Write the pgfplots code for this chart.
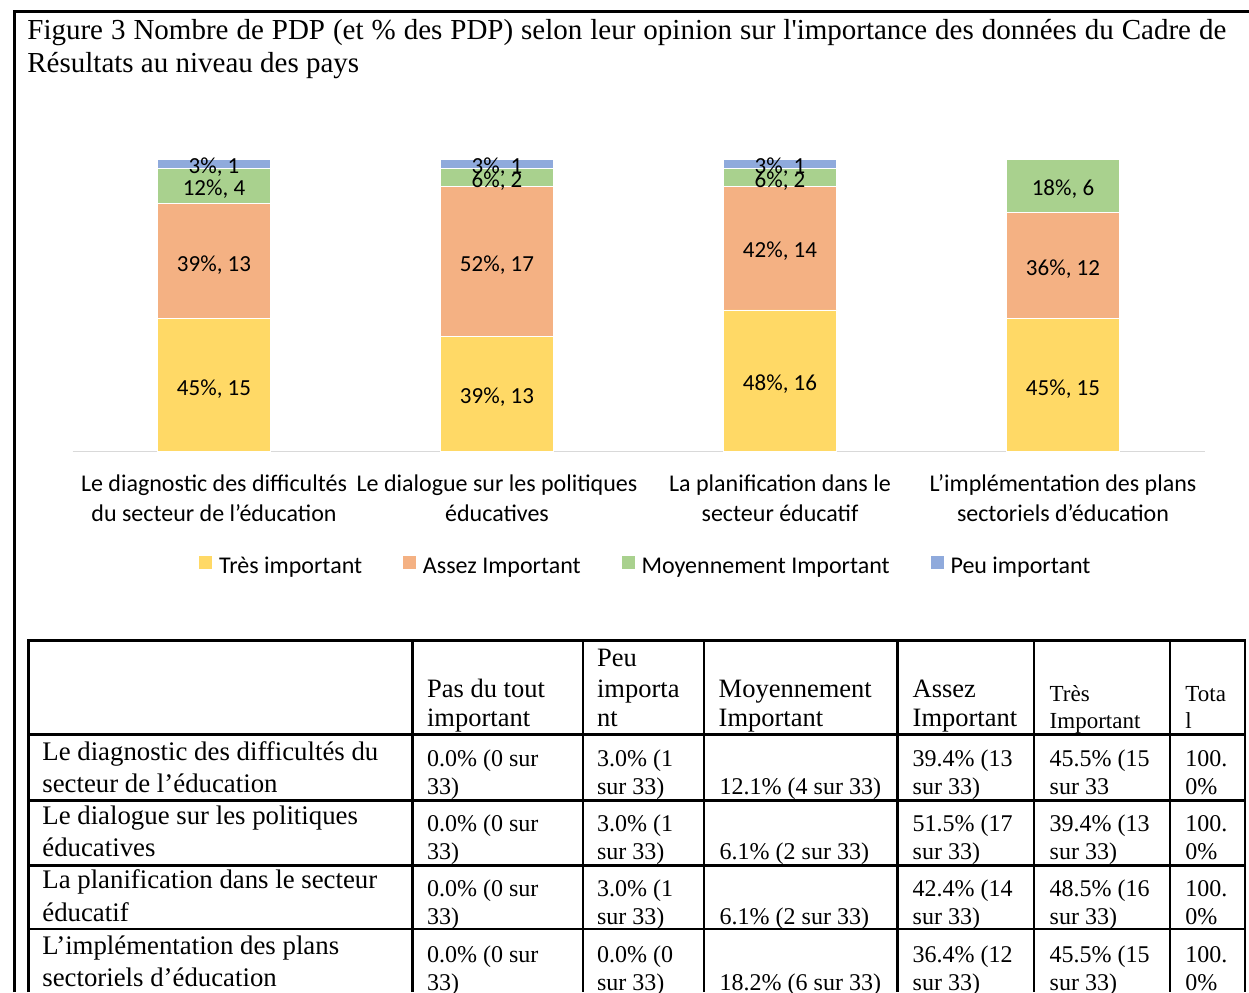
\documentclass[border=0pt]{standalone}
\usepackage{fontspec}
\setmainfont{Liberation Serif}
\newfontfamily\titlefont{Liberation Serif}[Ligatures=TeXOff]
\newfontfamily\calib{Carlito}
\usepackage{pgfplots}
\usepackage{pgfplotstable}
\pgfplotsset{compat=1.18}

\definecolor{cTres}{RGB}{255,217,102}
\definecolor{cAssez}{RGB}{244,177,131}
\definecolor{cMoyen}{RGB}{169,209,142}
\definecolor{cPeu}{RGB}{143,170,220}
\definecolor{axgray}{RGB}{217,217,217}

% number of PDP (out of 33) per opinion
\pgfplotstableread{
x tres assez moyen peu
0 15 13 4 1
1 13 17 2 1
2 16 14 2 1
3 15 12 6 0
}\pdpdata

\newcommand{\chartfont}{\calib\fontsize{12}{15}\selectfont}
\newcommand{\barfont}{\calib\fontsize{11.5}{14}\selectfont}
\newcommand{\hd}{\fontsize{13.25}{15}\selectfont}
\newcommand{\hs}{\fontsize{11.5}{13}\selectfont}
\newcommand{\rw}{\fontsize{13.4}{15}\selectfont}
\newcommand{\dt}{\fontsize{12}{14}\selectfont}
% cell text, scope units are pixels
\newcommand{\cell}[4][\dt]{\node[anchor=base west,inner sep=0pt,font=#1] at (#2,#3) {#4};}

\begin{document}
\begin{tikzpicture}
\path[use as bounding box] (0pt,0pt) rectangle (624.5pt,-496pt);
\clip (0pt,0pt) rectangle (624.5pt,-496pt);

\begin{axis}[
  at={(36.25pt,-225.75pt)}, anchor=south west,
  scale only axis, width=566pt, height=146pt,
  xmin=-0.5, xmax=3.5, ymin=0, ymax=33,
  ybar stacked, bar width=56.5pt,
  hide y axis,
  axis x line*=bottom,
  x axis line style={draw=axgray, line width=0.75pt},
  xtick={0,1,2,3},
  xticklabels={{Le diagnostic des difficultés\\du secteur de l’éducation},
    {Le dialogue sur les politiques\\éducatives},
    {La planification dans le\\secteur éducatif},
    {L’implémentation des plans\\sectoriels d’éducation}},
  xticklabel style={align=center, font=\chartfont, inner sep=0pt, yshift=-11.25pt},
  major tick length=0pt,
  /pgf/number format/assume math mode=true,
  visualization depends on=rawy\as\segval,
  nodes near coords={\pgfmathparse{round(100*\segval/33)}\pgfmathprintnumber[fixed,precision=0]{\pgfmathresult}\%, \pgfmathprintnumber[fixed,precision=0]{\segval}},
  every node near coord/.append style={font=\barfont, text=black, anchor=center, yshift=-1.75pt},
  legend columns=4,
  legend style={draw=none, fill=none, at={(0.507,-0.396)}, anchor=center, font=\chartfont,
    /tikz/every odd column/.append style={column sep=1pt},
    /tikz/every even column/.append style={column sep=18pt}},
  legend image code/.code={\fill[#1] (0pt,-1pt) rectangle (7pt,6pt);},
]
\addplot[fill=cTres, draw=white, line width=0.4pt] table[x=x,y=tres]{\pdpdata};
\addplot[fill=cAssez, draw=white, line width=0.4pt] table[x=x,y=assez]{\pdpdata};
\addplot[fill=cMoyen, draw=white, line width=0.4pt] table[x=x,y=moyen]{\pdpdata};
\addplot[fill=cPeu, draw=white, line width=0.4pt, skip coords between index={3}{4}]
  table[x=x,y=peu]{\pdpdata};
\legend{Très important, Assez Important, Moyennement Important, Peu important}
\end{axis}

\begin{scope}[x=0.5pt,y=-0.5pt]
\draw[line width=1.5pt] (14,992) -- (14,11) -- (1249,11);

% title
\node[anchor=base west,inner sep=0pt,font=\titlefont\fontsize{14.5}{17}\selectfont] at (27,39.3)
  {\makebox[599.5pt][s]{Figure 3 Nombre de PDP (et \% des PDP) selon leur opinion sur l'importance des données du Cadre de}};
\node[anchor=base west,inner sep=0pt,font=\titlefont\fontsize{14.5}{17}\selectfont] at (27,72) {Résultats au niveau des pays};

% table grid
\draw[line width=1.25pt] (28.7,992) -- (28.7,640.7) -- (1245,640.7) -- (1245,992);
\foreach \yy in {734.5,800.5,865.5,929} \draw[line width=1.25pt] (28.7,\yy) -- (1245,\yy);
\foreach \xx in {412.5,583,704,897.5,1034,1170} \draw[line width=1.25pt] (\xx,640.7) -- (\xx,992);

% header
\cell[\hd]{426.7}{697.3}{Pas du tout} \cell[\hd]{426.7}{726}{important}
\cell[\hd]{596.7}{666}{Peu} \cell[\hd]{596.7}{697.3}{importa} \cell[\hd]{596.7}{726}{nt}
\cell[\hd]{718.3}{697.3}{Moyennement} \cell[\hd]{718.3}{726}{Important}
\cell[\hd]{912.3}{697.3}{Assez} \cell[\hd]{912.3}{726}{Important}
\cell[\hs]{1049.3}{701}{Très} \cell[\hs]{1049.3}{728}{Important}
\cell[\hs]{1185}{701}{Tota} \cell[\hs]{1185}{728}{l}

% row labels
\cell[\rw]{42}{760}{Le diagnostic des difficultés du} \cell[\rw]{42}{792.3}{secteur de l’éducation}
\cell[\rw]{42}{824}{Le dialogue sur les politiques} \cell[\rw]{42}{856}{éducatives}
\cell[\rw]{42}{888.7}{La planification dans le secteur} \cell[\rw]{42}{921}{éducatif}
\cell[\rw]{42}{954.3}{L’implémentation des plans} \cell[\rw]{42}{986}{sectoriels d’éducation}

% row 1
\cell{426.7}{766.7}{0.0\% (0 sur} \cell{426.7}{794}{33)}
\cell{596.7}{766.7}{3.0\% (1} \cell{596.7}{794}{sur 33)}
\cell{719.3}{794}{12.1\% (4 sur 33)}
\cell{912.3}{766.7}{39.4\% (13} \cell{912.3}{794}{sur 33)}
\cell{1049.3}{766.7}{45.5\% (15} \cell{1049.3}{794}{sur 33}
\cell{1185}{766.7}{100.} \cell{1185}{794}{0\%}
% row 2
\cell{426.7}{831.7}{0.0\% (0 sur} \cell{426.7}{859.3}{33)}
\cell{596.7}{831.7}{3.0\% (1} \cell{596.7}{859.3}{sur 33)}
\cell{719.3}{859.3}{6.1\% (2 sur 33)}
\cell{912.3}{831.7}{51.5\% (17} \cell{912.3}{859.3}{sur 33)}
\cell{1049.3}{831.7}{39.4\% (13} \cell{1049.3}{859.3}{sur 33)}
\cell{1185}{831.7}{100.} \cell{1185}{859.3}{0\%}
% row 3
\cell{426.7}{896}{0.0\% (0 sur} \cell{426.7}{924}{33)}
\cell{596.7}{896}{3.0\% (1} \cell{596.7}{924}{sur 33)}
\cell{719.3}{924}{6.1\% (2 sur 33)}
\cell{912.3}{896}{42.4\% (14} \cell{912.3}{924}{sur 33)}
\cell{1049.3}{896}{48.5\% (16} \cell{1049.3}{924}{sur 33)}
\cell{1185}{896}{100.} \cell{1185}{924}{0\%}
% row 4
\cell{426.7}{962.7}{0.0\% (0 sur} \cell{426.7}{990.7}{33)}
\cell{596.7}{962.7}{0.0\% (0} \cell{596.7}{990.7}{sur 33)}
\cell{719.3}{990.7}{18.2\% (6 sur 33)}
\cell{912.3}{962.7}{36.4\% (12} \cell{912.3}{990.7}{sur 33)}
\cell{1049.3}{962.7}{45.5\% (15} \cell{1049.3}{990.7}{sur 33)}
\cell{1185}{962.7}{100.} \cell{1185}{990.7}{0\%}
\end{scope}
\end{tikzpicture}
\end{document}
